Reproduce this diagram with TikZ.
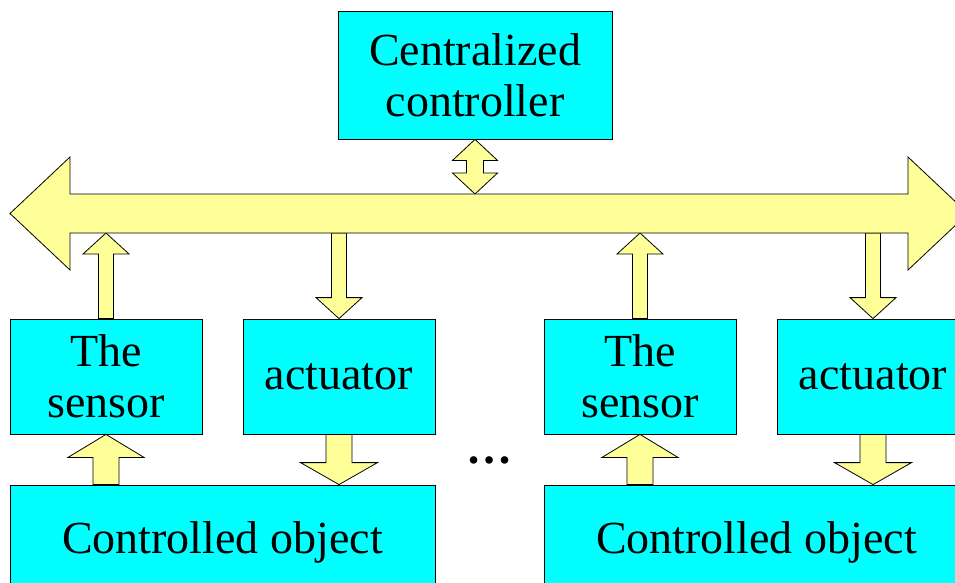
\documentclass[tikz,border=0pt]{standalone}
\usepackage{fontspec}
\setmainfont{Liberation Serif}
\usetikzlibrary{calc}

\definecolor{boxcyan}{RGB}{0,255,255}
\definecolor{arrowyellow}{RGB}{255,255,153}

\tikzset{
	box/.style={draw, fill=boxcyan, line width=0.8pt, inner sep=0pt, align=center,
		font=\fontsize{46}{51}\selectfont},
	blockarrow/.style={draw, fill=arrowyellow, line width=0.8pt, line join=miter}
}

% block arrow from #1 to #2: shaft half width #3, head half width #4, head length #5
\newcommand{\blockarrow}[5]{
	\coordinate (hd) at ($(#2)!#5!(#1)$);
	\draw[blockarrow] ($(#1)!#3!90:(#2)$) -- ($(hd)!#3!-90:(#1)$) -- ($(hd)!#4!-90:(#1)$) -- (#2)
		-- ($(hd)!#4!90:(#1)$) -- ($(hd)!#3!90:(#1)$) -- ($(#1)!#3!-90:(#2)$) -- cycle;
}
% same with a head at both ends
\newcommand{\dblockarrow}[5]{
	\coordinate (hda) at ($(#1)!#5!(#2)$);
	\coordinate (hdb) at ($(#2)!#5!(#1)$);
	\draw[blockarrow] (#1) -- ($(hda)!#4!90:(#2)$) -- ($(hda)!#3!90:(#2)$) -- ($(hdb)!#3!-90:(#1)$)
		-- ($(hdb)!#4!-90:(#1)$) -- (#2) -- ($(hdb)!#4!90:(#1)$) -- ($(hdb)!#3!90:(#1)$)
		-- ($(hda)!#3!-90:(#2)$) -- ($(hda)!#4!-90:(#2)$) -- cycle;
}

\begin{document}
\begin{tikzpicture}[x=1pt, y=-1pt]
	\useasboundingbox (0,0) rectangle (955,583);
	
	%controller
	\node (ctrl) at (475,75) [box, minimum width=274pt, minimum height=128pt]{Centralized\\controller};
	
	%sensors and actuators
	\node (sensA) at (106,376.5) [box, minimum width=192pt, minimum height=115pt]{The\\sensor};
	\node (actA) at (339,376.5) [box, minimum width=192pt, minimum height=115pt]{actuator};
	\node (sensB) at (640,376.5) [box, minimum width=192pt, minimum height=115pt]{The\\sensor};
	\node (actB) at (873,376.5) [box, minimum width=192pt, minimum height=115pt]{actuator};
	
	%controlled objects
	\node (objA) at (222.5,542.5) [box, minimum width=425pt, minimum height=115pt]{Controlled object};
	\node (objB) at (756.5,542.5) [box, minimum width=425pt, minimum height=115pt]{Controlled object};
	
	\node (dots) at (489,463) [anchor=base, font=\fontsize{46}{51}\selectfont\bfseries]{\dots};
	
	%bus
	\coordinate (busL) at (10,213.5);
	\coordinate (busR) at (968,213.5);
	\coordinate (bustop) at (0,194);
	\coordinate (busbot) at (0,233);
	
	\coordinate (ctrlbus) at (ctrl.south |- bustop);
	\coordinate (sensAbus) at (sensA.north |- busbot);
	\coordinate (actAbus) at (actA.north |- busbot);
	\coordinate (sensBbus) at (sensB.north |- busbot);
	\coordinate (actBbus) at (actB.north |- busbot);
	\coordinate (sensAobj) at (sensA.south |- objA.north);
	\coordinate (actAobj) at (actA.south |- objA.north);
	\coordinate (sensBobj) at (sensB.south |- objB.north);
	\coordinate (actBobj) at (actB.south |- objB.north);
	
	\blockarrow{sensA.north}{sensAbus}{7.5pt}{23pt}{21pt}
	\blockarrow{actAbus}{actA.north}{7.5pt}{23pt}{21pt}
	\blockarrow{sensB.north}{sensBbus}{7.5pt}{23pt}{21pt}
	\blockarrow{actBbus}{actB.north}{7.5pt}{23pt}{21pt}
	
	\blockarrow{sensAobj}{sensA.south}{13pt}{38pt}{23pt}
	\blockarrow{actA.south}{actAobj}{13pt}{38.5pt}{22pt}
	\blockarrow{sensBobj}{sensB.south}{13pt}{38pt}{23pt}
	\blockarrow{actB.south}{actBobj}{13pt}{38.5pt}{22pt}
	
	\dblockarrow{ctrl.south}{ctrlbus}{8.5pt}{22.5pt}{21pt}
	\dblockarrow{busL}{busR}{19.5pt}{56.5pt}{60pt}
\end{tikzpicture}
\end{document}
